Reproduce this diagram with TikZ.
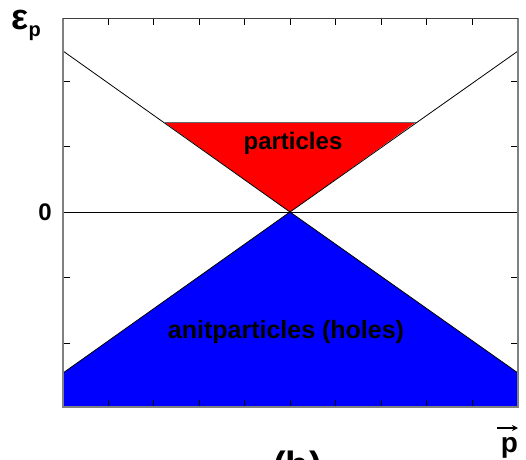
\documentclass[tikz,border=0pt]{standalone}
\usepackage{fontspec}
\setmainfont{Liberation Sans}
\usetikzlibrary{arrows.meta}
\begin{document}
\begin{tikzpicture}[x=1pt,y=-1pt,
  lbl/.style={inner sep=0pt,font=\bfseries\fontsize{24}{28}\selectfont},
  vline/.style={draw=black,line width=0.8pt},
  tick/.style={draw=black,line width=0.8pt},
  frame/.style={draw=gray,line width=1.6pt}]
\useasboundingbox (0,0) rectangle (526,459);
\coordinate (O) at (290,212);
\coordinate (TL) at (63,51);
\coordinate (TR) at (518,51);
\coordinate (BL) at (63,373);
\coordinate (BR) at (518,373);
\coordinate (RL) at (164,122);
\coordinate (RR) at (416,122);
% filled regions
\fill[blue] (BL) -- (O) -- (BR) -- (518,407) -- (63,407) -- cycle;
\fill[red] (RL) -- (RR) -- (O) -- cycle;
% lines
\draw[vline] (TL) -- (O) -- (TR);
\draw[vline] (BL) -- (O) -- (BR);
\draw[vline] (63,212) -- (518,212);
\draw[draw=black!60,line width=0.8pt] (RL) -- (RR);
% ticks
\foreach \k in {0,...,8} {
  \draw[tick] ({108+45.5*\k},407) -- ++(0,-7);
  \draw[tick] ({108+45.5*\k},18) -- ++(0,7);
}
\foreach \yy in {81,146.5,277.5,343} {
  \draw[tick] (63,\yy) -- ++(7,0);
  \draw[tick] (518,\yy) -- ++(-7,0);
}
% frame
\draw[frame] (63,18) -- (63,407) -- (518,407) -- (518,18);
\draw[draw=black!75,line width=1pt] (63,18) -- (518,18);
% labels
\node[lbl] (part) at (293,143) {particles};
\node[lbl,font=\bfseries\fontsize{25}{28}\selectfont] (anti) at (286,332) {anitparticles (holes)};
\node[lbl,anchor=base] (zero) at (45,220) {0};
\node[inner sep=0pt,anchor=base west,font=\bfseries\fontsize{36}{36}\selectfont] (eps) at (11,29) {ε};
\node[inner sep=0pt,anchor=base west,font=\bfseries\fontsize{20}{20}\selectfont] (sub) at (eps.base east) [yshift=-7pt] {p};
\node[inner sep=0pt,anchor=base,font=\bfseries\fontsize{28}{28}\selectfont] (pvec) at (509.5,452) {p};
\coordinate (a1) at (497,428);
\coordinate (a2) at (518,428);
\draw[line width=1.6pt,-{Stealth[length=6pt,width=6pt]}] (a1) -- (a2);
\node[inner sep=0pt,anchor=base,font=\bfseries\fontsize{38}{38}\selectfont] (b) at (297.5,478) {(b)};
\end{tikzpicture}
\end{document}
